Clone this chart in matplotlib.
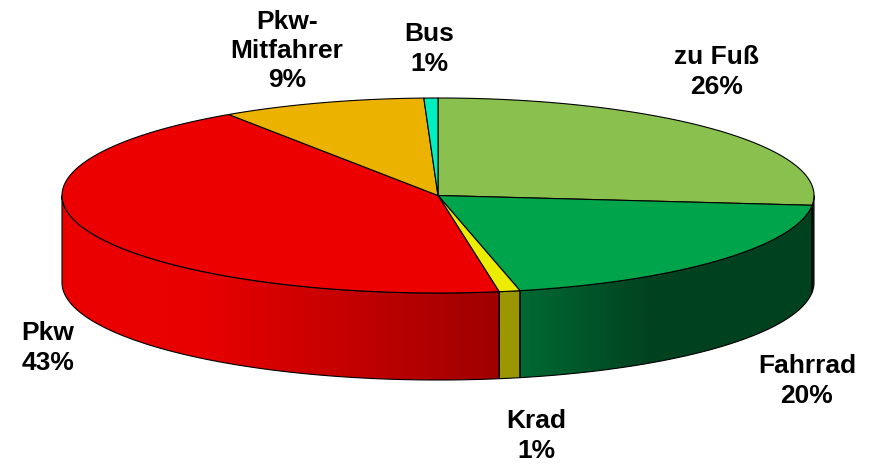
import numpy as np
import matplotlib
matplotlib.use('Agg')
import matplotlib.pyplot as plt
from matplotlib.colors import LinearSegmentedColormap
from matplotlib.patches import Polygon

# Anteile in %, im Uhrzeigersinn ab 12 Uhr
names = ['zu Fuß', 'Fahrrad', 'Krad', 'Pkw', 'Pkw-\nMitfahrer', 'Bus']
labels = ['26%', '20%', '1%', '43%', '9%', '1%']
values = [26.6, 19.9, 0.9, 43.2, 8.8, 0.6]
top_colors = ['#89c04e', '#00a44a', '#ecec00', '#ec0000', '#ecb200', '#00efc0']
# Seitenwand: Farbverlauf von links nach rechts
side_colors = {
    0: [(0, '#00411f'), (1, '#00411f')],
    1: [(0, '#006a33'), (0.45, '#00411f'), (1, '#00411f')],
    2: [(0, '#9b9700'), (1, '#9b9700')],
    3: [(0, '#ec0000'), (0.32, '#e80000'), (1, '#9f0000')],
}
label_pos = [(717, 72), (807, 381), (536, 436), (48, 348), (287, 51), (429, 49)]

cx, cy, rx, ry, depth = 438, 195.5, 376, 97.5, 87


def rim(t):
    # t = Winkel im Uhrzeigersinn ab 12 Uhr
    return cx + rx * np.sin(t), cy - ry * np.cos(t)


fig = plt.figure(figsize=(8.7, 4.65), dpi=100)
ax = fig.add_axes([0, 0, 1, 1])

edges = np.cumsum([0] + values) / sum(values) * 2 * np.pi

# sichtbare Seitenwand
for i in range(len(values)):
    t0, t1 = max(edges[i], np.pi / 2), min(edges[i + 1], 3 * np.pi / 2)
    if t1 <= t0:
        continue
    t = np.linspace(t0, t1, 150)
    x, y = rim(t)
    pts = np.r_[np.c_[x, y], np.c_[x[::-1], y[::-1] + depth]]
    poly = Polygon(pts, closed=True, fc='none', ec='black', lw=0.8, zorder=3)
    ax.add_patch(poly)
    cm = LinearSegmentedColormap.from_list('side', side_colors[i])
    img = ax.imshow(np.linspace(0, 1, 256)[None, :], cmap=cm, vmin=0, vmax=1, aspect='auto',
                    zorder=2, extent=[x.min(), x.max(), y.max() + depth, y.min()])
    img.set_clip_path(poly)

# Deckfläche
for i in range(len(values)):
    t = np.linspace(edges[i], edges[i + 1], 200)
    x, y = rim(t)
    ax.fill(np.r_[cx, x], np.r_[cy, y], fc=top_colors[i], ec='black', lw=0.8, zorder=4)

for i in range(len(values)):
    ax.text(label_pos[i][0], label_pos[i][1], names[i] + '\n' + labels[i], ha='center', va='center',
            family='Liberation Sans', fontweight='bold', fontsize=19, linespacing=1.28, color='black')

ax.set_xlim(0, 870)
ax.set_ylim(465, 0)
ax.axis('off')
fig.savefig('out.png', dpi=100)
